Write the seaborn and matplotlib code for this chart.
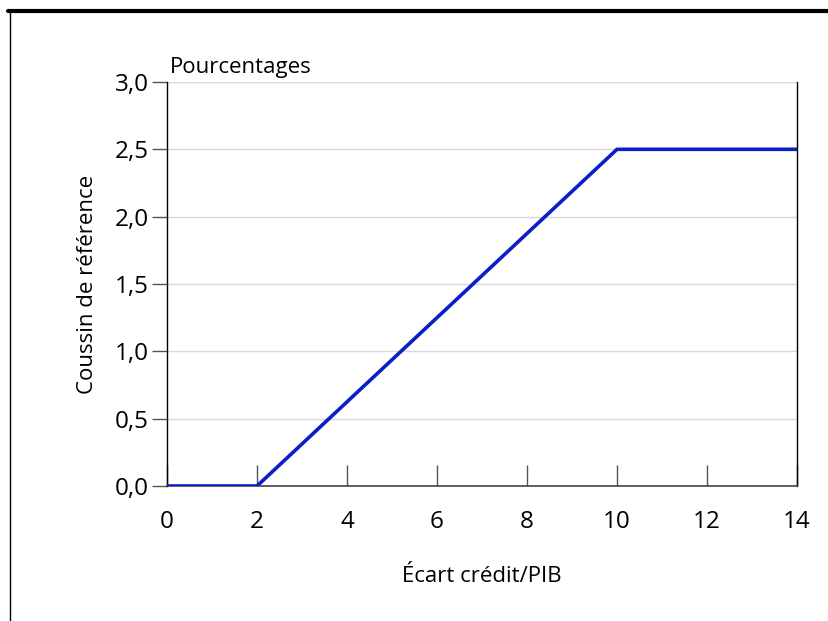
import matplotlib
matplotlib.use("Agg")
import matplotlib.pyplot as plt
from matplotlib.lines import Line2D
import seaborn as sns
import pandas as pd

# ─── Data ───────────────────────────────────────────────
credit_gap = [0, 2, 10, 14]
buffer_pct = [0.0, 0.0, 2.5, 2.5]

x_ticks = [0, 2, 4, 6, 8, 10, 12, 14]
y_ticks = [0.0, 0.5, 1.0, 1.5, 2.0, 2.5, 3.0]
y_tick_labels = ["0,0", "0,5", "1,0", "1,5", "2,0", "2,5", "3,0"]

sns.set_theme(style="white")
plt.rcParams["font.family"] = ["Open Sans", "DejaVu Sans"]
plt.rcParams["text.color"] = "black"
plt.rcParams["axes.labelcolor"] = "black"
plt.rcParams["xtick.color"] = "black"
plt.rcParams["ytick.color"] = "black"

df = pd.DataFrame({"x": credit_gap, "y": buffer_pct})

fig = plt.figure(figsize=(8.29, 6.21), dpi=100)
ax = fig.add_axes([0.2015, 0.2174, 0.7599, 0.6506])

for yv in y_ticks:
    ax.axhline(yv, color="#d9d9d9", linewidth=1, zorder=0)

sns.lineplot(data=df, x="x", y="y", ax=ax, color="#0a1fc8", linewidth=2.6,
             solid_joinstyle="miter", zorder=3)

ax.set_xlim(0, 14)
ax.set_ylim(0, 3.0)
ax.set_xticks(x_ticks)
ax.set_xticklabels([str(t) for t in x_ticks])
ax.set_yticks(y_ticks)
ax.set_yticklabels(y_tick_labels)

ax.tick_params(axis="x", direction="in", length=15, width=1, color="#555555",
               labelsize=17.5, labelcolor="black", pad=17, bottom=True)
ax.tick_params(axis="y", direction="out", length=11, width=1, color="#555555",
               labelsize=17.5, labelcolor="black", pad=2, left=True)

for side in ["left", "right"]:
    ax.spines[side].set_color("black")
    ax.spines[side].set_linewidth(1)
ax.spines["bottom"].set_color("#444444")
ax.spines["bottom"].set_linewidth(1.2)
ax.spines["top"].set_visible(False)

ax.set_xlabel("Écart crédit/PIB", fontsize=16, labelpad=23)
ax.set_ylabel("Coussin de référence", fontsize=16, labelpad=12)
ax.text(0.005, 1.01, "Pourcentages", transform=ax.transAxes, fontsize=16,
        ha="left", va="bottom")

# frame lines of the original figure
fig.add_artist(Line2D([0.01, 1.0], [0.982, 0.982], color="black", linewidth=3))
fig.add_artist(Line2D([0.0125, 0.0125], [0.0, 0.982], color="black", linewidth=1))

fig.savefig("out.png", dpi=100)
plt.close(fig)
